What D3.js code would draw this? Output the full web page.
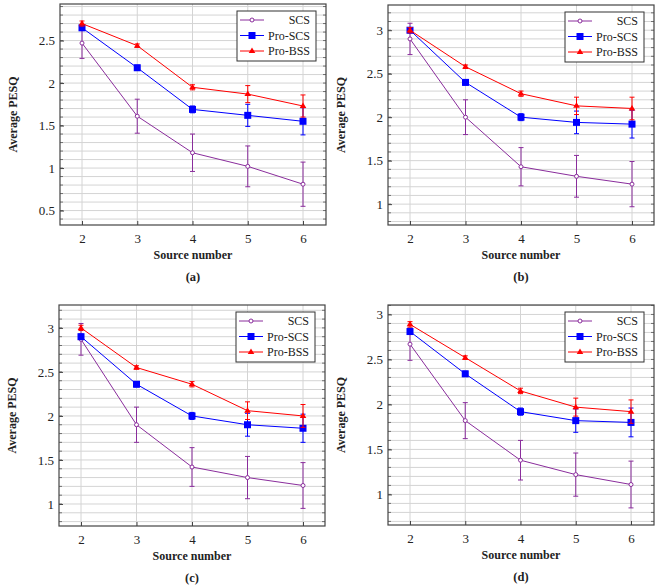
<html>
<head>
  <title>Average PESQ vs source number</title>
  <script src="https://cdnjs.cloudflare.com/ajax/libs/d3/7.8.5/d3.min.js"></script>
  <style>
    body { margin: 0; background: #fff; }
    svg text { font-family: "Liberation Serif", "DejaVu Serif", serif; fill: #222; }
    .tick text { font-size: 13px; }
    .lab { font-size: 12px; font-weight: bold; }
    .cap { font-size: 12.5px; font-weight: bold; }
    .leg { font-size: 12px; }
  </style>
</head>
<body>
  <div id="chart"></div>
  <script>
    // data
    var sources = [2, 3, 4, 5, 6];
    var seriesNames = ["SCS", "Pro-SCS", "Pro-BSS"];
    var panelNames = ["(a)", "(b)", "(c)", "(d)"];

    var scsA = [2.47, 1.61, 1.18, 1.02, 0.81];
    var proScsA = [2.65, 2.18, 1.69, 1.62, 1.55];
    var proBssA = [2.70, 2.44, 1.95, 1.87, 1.73];

    var scsB = [2.90, 2.00, 1.43, 1.32, 1.23];
    var proScsB = [3.00, 2.40, 2.00, 1.94, 1.92];
    var proBssB = [3.00, 2.58, 2.27, 2.13, 2.10];

    var scsC = [2.87, 1.90, 1.42, 1.30, 1.21];
    var proScsC = [2.90, 2.36, 2.00, 1.90, 1.86];
    var proBssC = [3.00, 2.55, 2.36, 2.06, 2.00];

    var scsD = [2.67, 1.82, 1.38, 1.22, 1.11];
    var proScsD = [2.81, 2.34, 1.92, 1.82, 1.80];
    var proBssD = [2.89, 2.52, 2.15, 1.97, 1.92];

    // error bar half-widths (same in all four panels)
    var scsErr = [0.18, 0.20, 0.22, 0.24, 0.26];
    var proScsErr = [0.03, 0.03, 0.04, 0.13, 0.16];
    var proBssErr = [0.03, 0.02, 0.03, 0.10, 0.13];

    var yTicksA = [0.5, 1, 1.5, 2, 2.5];
    var yTicksOther = [1, 1.5, 2, 2.5, 3];

    var colors = ["#8a2d9c", "#0000ff", "#ff0000"];

    var panels = [
      { name: panelNames[0], box: [60, 326, 4, 225], xr: [82, 303], yd: [0.33, 2.93], ticks: yTicksA, vals: [scsA, proScsA, proBssA] },
      { name: panelNames[1], box: [388, 654, 5, 225], xr: [410, 632], yd: [0.76, 3.29], ticks: yTicksOther, vals: [scsB, proScsB, proBssB] },
      { name: panelNames[2], box: [59, 325, 305, 526], xr: [81, 303], yd: [0.75, 3.26], ticks: yTicksOther, vals: [scsC, proScsC, proBssC] },
      { name: panelNames[3], box: [388, 654, 305, 525], xr: [410, 631], yd: [0.66, 3.105], ticks: yTicksOther, vals: [scsD, proScsD, proBssD] }
    ];
    var errs = [scsErr, proScsErr, proBssErr];

    var svg = d3.select("#chart").append("svg")
      .attr("width", 660).attr("height", 587);

    panels.forEach(function(p) {
      var x0 = p.box[0], x1 = p.box[1], y0 = p.box[2], y1 = p.box[3];
      var x = d3.scaleLinear().domain([2, 6]).range(p.xr);
      var y = d3.scaleLinear().domain(p.yd).range([y1, y0]);
      var g = svg.append("g");

      // minor grid every 0.1
      var minor = d3.range(Math.ceil(p.yd[0] * 10), Math.floor(p.yd[1] * 10) + 1).map(function(v) { return v / 10; });
      g.selectAll(".hg").data(minor).enter().append("line")
        .attr("x1", x0).attr("x2", x1)
        .attr("y1", function(d) { return y(d); }).attr("y2", function(d) { return y(d); })
        .attr("stroke", "#d4d4d4").attr("stroke-width", 1);
      g.selectAll(".vg").data(sources).enter().append("line")
        .attr("x1", function(d) { return x(d); }).attr("x2", function(d) { return x(d); })
        .attr("y1", y0).attr("y2", y1)
        .attr("stroke", "#d4d4d4").attr("stroke-width", 1);

      // minor tick marks on left/right edges
      g.selectAll(".mt").data(minor).enter().append("path")
        .attr("d", function(d) { var yy = y(d); return "M" + x0 + "," + yy + "h3M" + x1 + "," + yy + "h-3"; })
        .attr("stroke", "#555").attr("stroke-width", 0.8);

      // axes
      var ya = g.append("g").attr("transform", "translate(" + x0 + ",0)")
        .call(d3.axisLeft(y).tickValues(p.ticks).tickSize(-4).tickPadding(5).tickFormat(d3.format("~g")));
      var xa = g.append("g").attr("transform", "translate(0," + y1 + ")")
        .call(d3.axisBottom(x).tickValues(sources).tickSize(-4).tickPadding(9).tickFormat(d3.format("d")));
      [ya, xa].forEach(function(a) {
        a.attr("font-family", null).attr("font-size", null);
        a.select(".domain").remove();
        a.selectAll(".tick line").attr("stroke", "#444");
        a.selectAll(".tick text").attr("fill", "#222");
      });
      g.append("rect").attr("x", x0).attr("y", y0).attr("width", x1 - x0).attr("height", y1 - y0)
        .attr("fill", "none").attr("stroke", "#444").attr("stroke-width", 1.2);

      // series
      p.vals.forEach(function(vals, si) {
        var pts = sources.map(function(s, i) { return { s: s, v: vals[i], e: errs[si][i] }; });
        var c = colors[si];
        g.selectAll(".eb" + si).data(pts).enter().append("path")
          .attr("d", function(d) {
            var xx = x(d.s), yt = y(d.v + d.e), yb = y(d.v - d.e);
            return "M" + xx + "," + yt + "V" + yb + "M" + (xx - 2.5) + "," + yt + "h5M" + (xx - 2.5) + "," + yb + "h5";
          })
          .attr("stroke", c).attr("stroke-width", 1).attr("fill", "none");
        g.append("path").datum(pts)
          .attr("d", d3.line().x(function(d) { return x(d.s); }).y(function(d) { return y(d.v); }))
          .attr("stroke", c).attr("stroke-width", 1).attr("fill", "none");
        drawMarkers(g, pts.map(function(d) { return [x(d.s), y(d.v)]; }), si);
      });

      // legend
      var lx = x1 - 89, ly = y0 + 7;
      var lg = g.append("g").attr("transform", "translate(" + lx + "," + ly + ")");
      lg.append("rect").attr("width", 79).attr("height", 50)
        .attr("fill", "#fff").attr("stroke", "#333").attr("stroke-width", 1);
      seriesNames.forEach(function(n, i) {
        var ry = 9 + i * 15.5;
        lg.append("line").attr("x1", 3).attr("x2", 27).attr("y1", ry).attr("y2", ry)
          .attr("stroke", colors[i]).attr("stroke-width", 1);
        drawMarkers(lg, [[15, ry]], i);
        lg.append("text").attr("class", "leg").attr("x", 73).attr("y", ry + 4)
          .attr("text-anchor", "end").text(n);
      });

      // labels
      g.append("text").attr("class", "lab")
        .attr("transform", "translate(" + (x0 - 43) + "," + ((y0 + y1) / 2) + ") rotate(-90)")
        .attr("text-anchor", "middle").text("Average PESQ");
      g.append("text").attr("class", "lab")
        .attr("x", (x0 + x1) / 2).attr("y", y1 + 34)
        .attr("text-anchor", "middle").text("Source number");
      g.append("text").attr("class", "cap")
        .attr("x", (x0 + x1) / 2).attr("y", y1 + 56)
        .attr("text-anchor", "middle").text(p.name);
    });

    function drawMarkers(g, xy, si) {
      var c = colors[si];
      if (si === 0) {
        g.selectAll(null).data(xy).enter().append("circle")
          .attr("cx", function(d) { return d[0]; }).attr("cy", function(d) { return d[1]; })
          .attr("r", 2).attr("fill", "#fff").attr("stroke", c).attr("stroke-width", 1);
      } else if (si === 1) {
        g.selectAll(null).data(xy).enter().append("rect")
          .attr("x", function(d) { return d[0] - 3.5; }).attr("y", function(d) { return d[1] - 3.5; })
          .attr("width", 7).attr("height", 7).attr("fill", c);
      } else {
        g.selectAll(null).data(xy).enter().append("path")
          .attr("d", function(d) { return "M" + d[0] + "," + (d[1] - 3.5) + "l3.3,5.5h-6.6z"; })
          .attr("fill", c);
      }
    }
  </script>
</body>
</html>
